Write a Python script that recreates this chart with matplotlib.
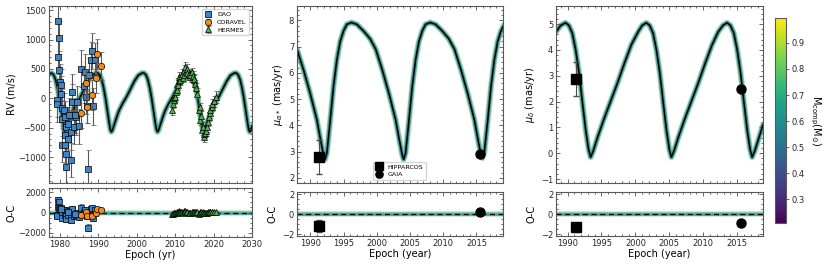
import numpy as np
import matplotlib
matplotlib.use("Agg")
import matplotlib.pyplot as plt
from matplotlib.ticker import AutoMinorLocator, MultipleLocator
from matplotlib.colors import Normalize
from matplotlib.cm import ScalarMappable

# ---- RV orbit model (epoch, m/s) ----
rv_mod_t = [1977.0,
            1977.9, 1978.4, 1978.9, 1979.4, 1979.9, 1980.4, 1980.9, 1981.15, 1981.4, 1981.65,
            1981.9, 1982.4, 1982.9, 1983.4, 1984.4, 1985.4, 1986.4, 1987.4, 1988.4, 1989.4,
            1989.9, 1990.4, 1990.9, 1991.4, 1991.9, 1992.4, 1992.9, 1993.15, 1993.4, 1993.65,
            1993.9, 1994.4, 1994.9, 1995.4, 1996.4, 1997.4, 1998.4, 1999.4, 2000.4, 2001.4,
            2001.9, 2002.4, 2002.9, 2003.4, 2003.9, 2004.4, 2004.9, 2005.15, 2005.4, 2005.65,
            2005.9, 2006.4, 2006.9, 2007.4, 2008.4, 2009.4, 2010.4, 2011.4, 2012.4, 2013.4,
            2013.9, 2014.4, 2014.9, 2015.4, 2015.9, 2016.4, 2016.9, 2017.15, 2017.4, 2017.65,
            2017.9, 2018.4, 2018.9, 2019.4, 2020.4, 2021.4, 2022.4, 2023.4, 2024.4, 2025.4,
            2025.9, 2026.4, 2026.9, 2027.4, 2027.9, 2028.4, 2028.9, 2029.15, 2029.4, 2029.65,
            2030.0]
rv_mod_v = [415,
            430, 400, 320, 180, 0, -220, -440, -530, -570, -550,
            -500, -400, -300, -210, -80, 30, 160, 290, 390, 430,
            430, 400, 320, 180, 0, -220, -440, -530, -570, -550,
            -500, -400, -300, -210, -80, 30, 160, 290, 390, 430,
            430, 400, 320, 180, 0, -220, -440, -530, -570, -550,
            -500, -400, -300, -210, -80, 30, 160, 290, 390, 430,
            430, 400, 320, 180, 0, -220, -440, -530, -570, -550,
            -500, -400, -300, -210, -80, 30, 160, 290, 390, 430,
            430, 400, 320, 180, 0, -220, -440, -530, -570, -550,
            -470]

# ---- RV data ----
dao_t = [1979.65, 1979.8, 1979.5, 1979.8, 1980.0, 1980.3, 1979.3, 1979.3, 1980.5, 1981.0,
         1980.7, 1981.4, 1981.7, 1981.3, 1980.5, 1981.4, 1981.6, 1981.7, 1982.2, 1982.3,
         1982.8, 1982.9, 1983.1, 1983.3, 1983.7, 1984.3, 1984.6, 1985.0, 1985.4, 1986.3,
         1986.5, 1986.8, 1987.4, 1987.7, 1988.0, 1988.3, 1988.7, 1989.1, 1987.1, 1980.4,
         1982.2, 1983.9]
dao_rv = [1318, 1034, 705, 489, 279, 222, -34, -100, -158, -204,
          -346, -318, -488, -630, -800, -800, -942, -1170, -687, -290,
          -573, -1044, -62, 108, -488, -318, -62, -477, 506, 205,
          449, 23, -1198, 392, 660, 807, -136, 648, -136, 80,
          -431, -290]
dao_err = [300, 280, 290, 310, 300, 270, 290, 300, 320, 290,
           300, 280, 310, 300, 290, 300, 280, 310, 290, 300,
           300, 290, 310, 300, 290, 300, 280, 300, 310, 290,
           300, 290, 320, 300, 290, 300, 310, 300, 290, 300,
           280, 300]
dao_oc = [1228, 998, 561, 453, 323, 398, -242, -308, 106, 272,
          6, 252, 57, -76, -536, -230, -388, -625, -247, 130,
          -253, -744, 202, 336, -317, -225, -4, -463, 476, 58,
          276, -189, -1488, 72, 310, 427, -538, 230, -387, 300,
          9, -145]

cor_t = [1985.5, 1986.8, 1987.0, 1988.4, 1989.5, 1989.7, 1990.7]
cor_rv = [-246, 254, -150, 55, 350, 752, 553]
cor_err = [260, 250, 270, 250, 260, 250, 240]
cor_oc = [-289, 42, -388, -335, -80, 322, 201]

her_t = [2009.3, 2009.4, 2009.6, 2009.8, 2010.0, 2010.2, 2010.4, 2010.6, 2010.8, 2010.9,
         2011.1, 2011.3, 2011.5, 2011.8, 2012.0, 2012.2, 2012.4, 2012.6, 2012.8, 2013.0,
         2013.2, 2013.5, 2013.8, 2014.0, 2014.3, 2014.6, 2014.8, 2015.0, 2015.2, 2015.5,
         2015.7, 2016.1, 2016.4, 2016.6, 2016.8, 2017.0, 2017.2, 2017.4, 2017.6, 2017.8,
         2018.0, 2018.3, 2018.5, 2018.7, 2019.0, 2019.2, 2019.5, 2019.7, 2020.0, 2020.7]
her_rv = [-200, -90, -30, 0, 30, 100, 150, 250, 220, 360,
          300, 310, 380, 420, 350, 470, 400, 530, 450, 500,
          430, 420, 370, 400, 450, 380, 310, 330, 250, 180,
          80, -200, -150, -370, -300, -540, -480, -650, -600, -590,
          -560, -480, -400, -310, -250, -200, -150, -90, -50, 20]
her_err = [90, 80, 70, 80, 90, 70, 80, 90, 70, 80,
           80, 90, 70, 80, 80, 90, 70, 80, 90, 80,
           70, 80, 90, 80, 70, 80, 90, 80, 70, 80,
           90, 80, 70, 90, 80, 80, 70, 90, 80, 70,
           80, 90, 70, 80, 90, 80, 70, 80, 90, 100]
her_oc = [-180, -120, -86, -82, -78, -34, -10, 64, 8, 135,
          49, 33, 80, 90, 0, 100, 10, 132, 44, 86,
          8, -10, -60, -25, 45, 10, -25, 40, 15, 35,
          10, -110, 70, -60, 95, -65, 65, -80, -60, -75,
          -80, -60, 20, 30, 32, 46, 47, 81, 82, 67]

# ---- proper motion in RA (mas/yr) ----
pma_t = [1988.0, 1989.0, 1990.0, 1991.0, 1991.5, 1992.0, 1992.2, 1992.5, 1993.0, 1993.5,
         1994.0, 1994.5, 1995.0, 1995.5, 1996.2, 1997.0, 1998.0, 1999.0,
         1999.85, 2000.85, 2001.85, 2002.85, 2003.35, 2003.85, 2004.05, 2004.35, 2004.85, 2005.35,
         2005.85, 2006.35, 2006.85, 2007.35, 2008.05, 2008.85, 2009.85, 2010.85,
         2011.7, 2012.7, 2013.7, 2014.7, 2015.2, 2015.7, 2015.9, 2016.2, 2016.7, 2017.2,
         2017.7, 2018.2, 2018.7, 2019.2]
pma_v = [6.9, 6.1, 5.2, 4.2, 3.5, 2.85, 2.7, 2.95, 4.2, 5.5,
         6.5, 7.2, 7.6, 7.85, 7.92, 7.85, 7.6, 7.3,
         6.9, 6.1, 5.2, 4.2, 3.5, 2.85, 2.7, 2.95, 4.2, 5.5,
         6.5, 7.2, 7.6, 7.85, 7.92, 7.85, 7.6, 7.3,
         6.9, 6.1, 5.2, 4.2, 3.5, 2.85, 2.75, 3.0, 4.2, 5.5,
         6.5, 7.2, 7.6, 7.85]

# ---- proper motion in Dec (mas/yr) ----
pmd_t = [1988.3, 1989.0, 1989.7, 1990.2, 1990.7, 1991.2, 1991.7, 1992.2, 1992.7, 1993.1,
         1993.4, 1993.8, 1994.4, 1995.4, 1996.4, 1997.4, 1998.4, 1999.4, 2000.4,
         2001.0, 2001.6, 2002.1, 2002.6, 2003.1, 2003.6, 2004.1, 2004.6, 2005.0,
         2005.3, 2005.7, 2006.3, 2007.3, 2008.3, 2009.3, 2010.3, 2011.3, 2012.2,
         2012.9, 2013.5, 2014.0, 2014.5, 2015.0, 2015.5, 2016.0, 2016.5, 2016.9,
         2017.2, 2017.6, 2018.2, 2018.8]
pmd_v = [4.7, 4.95, 5.05, 4.95, 4.65, 4.0, 3.1, 1.95, 0.85, 0.15,
         -0.15, 0.1, 0.6, 1.35, 2.05, 2.75, 3.5, 4.2, 4.7,
         4.95, 5.05, 4.95, 4.65, 4.0, 3.1, 1.95, 0.85, 0.15,
         -0.15, 0.1, 0.6, 1.35, 2.05, 2.75, 3.5, 4.2, 4.7,
         4.95, 5.05, 4.95, 4.65, 4.0, 3.1, 1.95, 0.85, 0.15,
         -0.15, 0.1, 0.6, 1.1]

# ---- Hipparcos / Gaia measurements ----
hg_t = [1991.25, 2015.5]
pma_obs = [2.8, 2.9]
pma_err = [0.65, 0.05]
pma_oc = [-1.2, 0.2]
pma_oc_err = [0.6, 0.05]
pmd_obs = [2.88, 2.5]
pmd_err = [0.67, 0.05]
pmd_oc = [-1.3, -0.85]
pmd_oc_err = [0.45, 0.05]

mass_ticks = [0.3, 0.4, 0.5, 0.6, 0.7, 0.8, 0.9]

plt.rcParams['font.family'] = 'DejaVu Sans'
cmap = plt.get_cmap('viridis')
norm = Normalize(vmin=0.21, vmax=0.995)

W, H = 830, 264
fig = plt.figure(figsize=(W / 100, H / 100), dpi=100)


def box(l, r, t, b):
    return [l / W, (H - b) / H, (r - l) / W, (b - t) / H]


def style(ax, fs=6):
    ax.tick_params(which='both', direction='in', top=True, right=True,
                   labelsize=fs, colors='0.3', labelcolor='0.15', width=0.6, pad=2)
    ax.tick_params(which='major', length=3)
    ax.tick_params(which='minor', length=1.6)
    ax.xaxis.set_minor_locator(AutoMinorLocator())
    ax.yaxis.set_minor_locator(AutoMinorLocator())
    for s in ax.spines.values():
        s.set_color('0.35')
        s.set_linewidth(0.8)


def band(ax, t, v):
    # spread of the posterior orbits, drawn as widened strokes of the same curve
    for c, lw, a in [(0.85, 5.0, 0.2), (0.68, 4.0, 0.4), (0.56, 3.0, 0.55), (0.45, 2.0, 0.45)]:
        ax.plot(t, v, color=cmap(norm(c)), lw=lw, alpha=a, solid_capstyle='round', zorder=1)
    ax.plot(t, v, color='k', lw=1.1, zorder=2)


def zero_band(ax):
    for c, lw, a in [(0.85, 4.5, 0.2), (0.66, 3.2, 0.5), (0.52, 2.0, 0.5)]:
        ax.axhline(0, color=cmap(norm(c)), lw=lw, alpha=a, zorder=1)
    ax.axhline(0, color='k', lw=0.9, ls=(0, (4, 3)), zorder=2)


lab = 7
ebk = dict(ecolor='0.35', elinewidth=0.8, capsize=1.8, capthick=0.7, mec='k', mew=0.5)
hgk = dict(color='k', ecolor='0.3', elinewidth=0.8, capsize=2, zorder=4)

# ---------------- panel 1: RV ----------------
ax1 = fig.add_axes(box(49, 252, 6, 183))
r1 = fig.add_axes(box(49, 252, 188, 237), sharex=ax1)
band(ax1, rv_mod_t, rv_mod_v)
ax1.errorbar(dao_t, dao_rv, yerr=dao_err, fmt='s', ms=4.6, color='#3f84c4', label='DAO', zorder=3, **ebk)
ax1.errorbar(cor_t, cor_rv, yerr=cor_err, fmt='o', ms=4.6, color='#f28a1e', label='CORAVEL', zorder=4, **ebk)
ax1.errorbar(her_t, her_rv, yerr=her_err, fmt='^', ms=4.0, color='#4fb04f', label='HERMES', zorder=3, **ebk)
ax1.set_xlim(1977.2, 2030)
ax1.set_ylim(-1440, 1570)
ax1.yaxis.set_major_locator(MultipleLocator(500))
ax1.set_ylabel('RV (m/s)', fontsize=lab, labelpad=1)
ax1.legend(loc='upper right', fontsize=4.6, frameon=True, handlelength=1.2,
           borderpad=0.4, labelspacing=0.35, edgecolor='0.8')
plt.setp(ax1.get_xticklabels(), visible=False)

zero_band(r1)
r1.errorbar(dao_t, dao_oc, yerr=dao_err, fmt='s', ms=4.6, color='#3f84c4', zorder=3, **ebk)
r1.errorbar(cor_t, cor_oc, yerr=cor_err, fmt='o', ms=4.6, color='#f28a1e', zorder=4, **ebk)
r1.errorbar(her_t, her_oc, yerr=her_err, fmt='^', ms=4.0, color='#4fb04f', zorder=3, **ebk)
r1.set_ylim(-2400, 2400)
r1.yaxis.set_major_locator(MultipleLocator(2000))
r1.xaxis.set_major_locator(MultipleLocator(10))
r1.set_ylabel('O-C', fontsize=lab, labelpad=1)
r1.set_xlabel('Epoch (yr)', fontsize=lab, labelpad=1)
style(ax1)
style(r1)

# ---------------- panel 2: pm RA ----------------
ax2 = fig.add_axes(box(297, 503, 6, 183))
r2 = fig.add_axes(box(297, 503, 192, 236), sharex=ax2)
band(ax2, pma_t, pma_v)
ax2.errorbar(hg_t[:1], pma_obs[:1], yerr=pma_err[:1], fmt='s', ms=6.5, label='HIPPARCOS', **hgk)
ax2.errorbar(hg_t[1:], pma_obs[1:], yerr=pma_err[1:], fmt='o', ms=6.5, label='GAIA', **hgk)
ax2.set_xlim(1988, 2019)
ax2.set_ylim(1.8, 8.55)
ax2.set_ylabel(r'$\mu_{\alpha*}$ (mas/yr)', fontsize=lab, labelpad=3)
ax2.legend(loc='lower left', bbox_to_anchor=(0.355, 0.0), fontsize=4.6, frameon=True,
           handlelength=1.0, borderpad=0.4, labelspacing=0.35, edgecolor='0.8', markerscale=0.8)
plt.setp(ax2.get_xticklabels(), visible=False)

zero_band(r2)
r2.errorbar(hg_t[:1], pma_oc[:1], yerr=pma_oc_err[:1], fmt='s', ms=6.5, **hgk)
r2.errorbar(hg_t[1:], pma_oc[1:], yerr=pma_oc_err[1:], fmt='o', ms=6.5, **hgk)
r2.set_ylim(-2.2, 2.2)
r2.yaxis.set_major_locator(MultipleLocator(2))
r2.xaxis.set_major_locator(MultipleLocator(5))
r2.set_ylabel('O-C', fontsize=lab, labelpad=3)
r2.set_xlabel('Epoch (year)', fontsize=lab, labelpad=1)
style(ax2)
style(r2)

# ---------------- panel 3: pm Dec ----------------
ax3 = fig.add_axes(box(556, 763, 6, 183))
r3 = fig.add_axes(box(556, 763, 192, 236), sharex=ax3)
band(ax3, pmd_t, pmd_v)
ax3.errorbar(hg_t[:1], pmd_obs[:1], yerr=pmd_err[:1], fmt='s', ms=6.5, **hgk)
ax3.errorbar(hg_t[1:], pmd_obs[1:], yerr=pmd_err[1:], fmt='o', ms=6.5, **hgk)
ax3.set_xlim(1988.3, 2018.8)
ax3.set_ylim(-1.15, 5.7)
ax3.set_ylabel(r'$\mu_{\delta}$ (mas/yr)', fontsize=lab, labelpad=3)
plt.setp(ax3.get_xticklabels(), visible=False)

zero_band(r3)
r3.errorbar(hg_t[:1], pmd_oc[:1], yerr=pmd_oc_err[:1], fmt='s', ms=6.5, **hgk)
r3.errorbar(hg_t[1:], pmd_oc[1:], yerr=pmd_oc_err[1:], fmt='o', ms=6.5, **hgk)
r3.set_ylim(-2.2, 2.2)
r3.yaxis.set_major_locator(MultipleLocator(2))
r3.xaxis.set_major_locator(MultipleLocator(5))
r3.set_ylabel('O-C', fontsize=lab, labelpad=3)
r3.set_xlabel('Epoch (year)', fontsize=lab, labelpad=1)
style(ax3)
style(r3)

# ---------------- colorbar ----------------
cax = fig.add_axes(box(775, 786, 18, 223))
cb = fig.colorbar(ScalarMappable(norm=norm, cmap=cmap), cax=cax, ticks=mass_ticks)
cb.ax.tick_params(labelsize=6, direction='out', length=2, width=0.6, colors='0.3',
                  labelcolor='0.15', pad=2)
cb.outline.set_edgecolor('0.35')
cb.outline.set_linewidth(0.8)
cb.set_label(r'$\mathrm{M_{comp}(M_{\odot})}$', fontsize=lab, rotation=270, labelpad=13)

fig.savefig('out.png', dpi=100)
